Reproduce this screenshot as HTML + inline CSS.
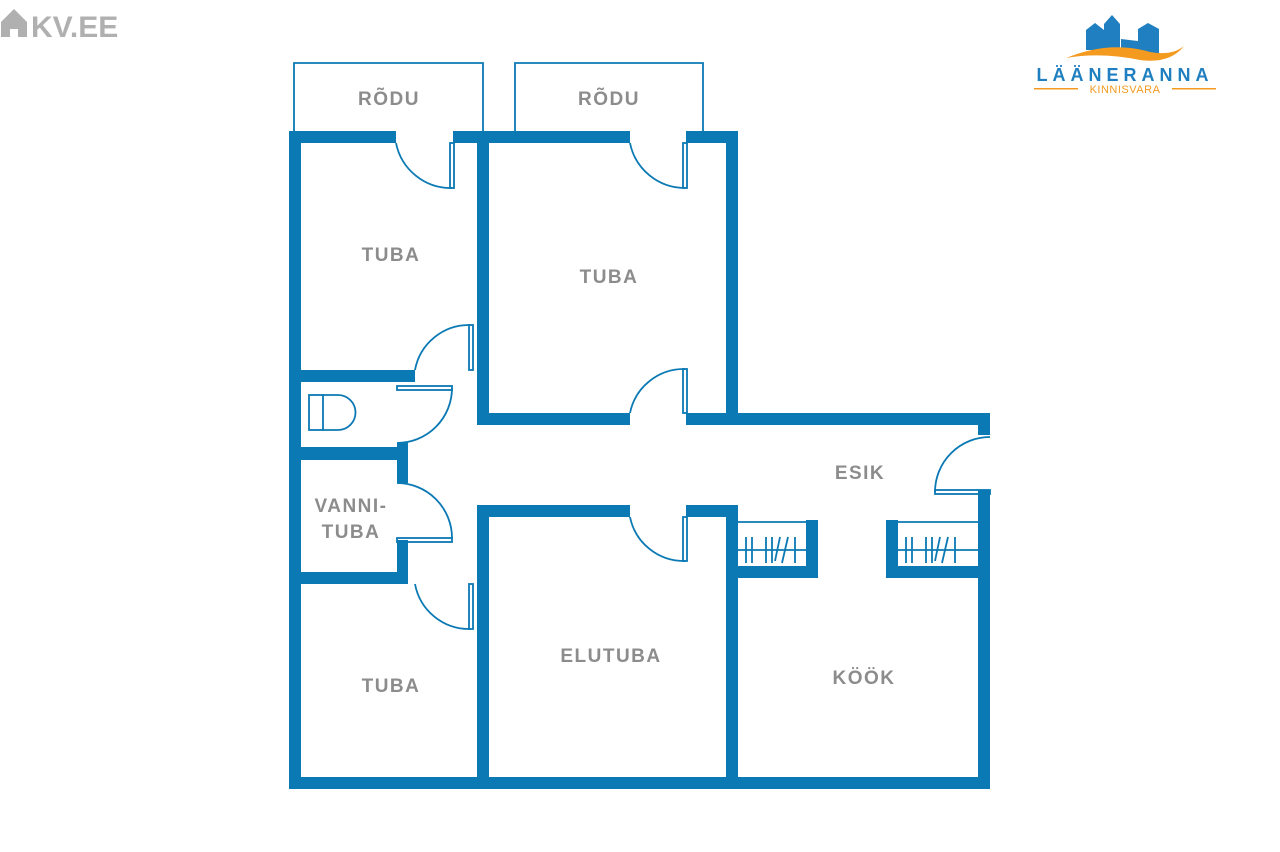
<!DOCTYPE html>
<html><head><meta charset="utf-8"><style>
html,body{margin:0;padding:0;background:#fff;width:1280px;height:852px;overflow:hidden}
svg{display:block}
.w{fill:#0a79b4}
.l{fill:none;stroke:#0a79b4;stroke-width:1.8}
.t{font-family:"Liberation Sans",sans-serif;font-weight:bold;fill:#8c8c8c;font-size:19px;letter-spacing:1.5px;text-anchor:middle}
</style></head><body>
<svg width="1280" height="852" viewBox="0 0 1280 852" xmlns="http://www.w3.org/2000/svg">
<!-- KV.EE logo -->
<path d="M1 22 L14 9 L27 22 L27 37 L18 37 L18 29 L10 29 L10 37 L1 37 Z" fill="#b0b0b0"/>
<text x="31" y="37" font-family="Liberation Sans,sans-serif" font-weight="bold" font-size="30" fill="#b0b0b0">KV.EE</text>
<!-- Laaneranna logo -->
<g fill="#1f7fc0">
<path d="M1086 50 L1086 30 L1095 23 L1104 30 L1104 50 Z"/>
<path d="M1104 50 L1104 24 L1112 15 L1120 24 L1120 50 Z"/>
<path d="M1121 50 L1121 39 L1146 42 L1146 54 Z"/>
<path d="M1138 44 L1138 29 L1148 23 L1159 29 L1159 54 L1140 54 Z"/>
</g>
<path d="M1066 58 Q1110 40 1150 52 Q1172 56 1184 46 Q1170 64 1140 60 Q1100 52 1066 58 Z" fill="#f39a1f"/>
<text x="1125" y="81" font-family="Liberation Sans,sans-serif" font-weight="bold" font-size="18" fill="#1f7fc0" text-anchor="middle" letter-spacing="5">LÄÄNERANNA</text>
<text x="1125" y="93" font-family="Liberation Sans,sans-serif" font-size="11" fill="#f39a1f" text-anchor="middle" letter-spacing="0.5">KINNISVARA</text>
<rect x="1034" y="88" width="44" height="1.5" fill="#f39a1f"/>
<rect x="1172" y="88" width="44" height="1.5" fill="#f39a1f"/>

<!-- balconies -->
<path class="l" d="M294 131 V63 H483 V131"/>
<path class="l" d="M515 131 V63 H703 V131"/>

<!-- walls -->
<rect class="w" x="289" y="131" width="12" height="658"/>
<rect class="w" x="289" y="777" width="701" height="12"/>
<rect class="w" x="289" y="131" width="107" height="12"/>
<rect class="w" x="453" y="131" width="177" height="12"/>
<rect class="w" x="686" y="131" width="52" height="12"/>
<rect class="w" x="477" y="131" width="12" height="294"/>
<rect class="w" x="726" y="131" width="12" height="294"/>
<rect class="w" x="477" y="413" width="153" height="12"/>
<rect class="w" x="686" y="413" width="304" height="12"/>
<rect class="w" x="978" y="413" width="12" height="22"/>
<rect class="w" x="978" y="490" width="12" height="299"/>
<rect class="w" x="477" y="505" width="153" height="12"/>
<rect class="w" x="686" y="505" width="52" height="12"/>
<rect class="w" x="477" y="505" width="12" height="284"/>
<rect class="w" x="726" y="505" width="12" height="284"/>
<rect class="w" x="301" y="370" width="114" height="12"/>
<rect class="w" x="301" y="447" width="107" height="13"/>
<rect class="w" x="397" y="443" width="11" height="40"/>
<rect class="w" x="397" y="540" width="11" height="44"/>
<rect class="w" x="301" y="572" width="107" height="12"/>
<!-- wardrobes -->
<rect class="w" x="806" y="520" width="12" height="58"/>
<rect class="w" x="738" y="566" width="80" height="12"/>
<rect class="w" x="886" y="520" width="12" height="58"/>
<rect class="w" x="886" y="566" width="92" height="12"/>
<path class="l" d="M738 522 H806 M738 550 H806 M898 522 H978 M898 550 H978"/>
<path class="l" d="M746 537 V563 M752 537 V563 M766 537 V563 M772 537 V563 M780 537 L775 561 M788 537 L782 563 M795 537 V563
M906 537 V563 M912 537 V563 M926 537 V563 M932 537 V563 M940 537 L935 561 M948 537 L942 563 M955 537 V563"/>

<!-- doors -->
<path class="l" d="M396 143 A56 56 0 0 0 452 188"/><rect class="l" x="450" y="143" width="4" height="45"/>
<path class="l" d="M630 143 A56 56 0 0 0 685 188"/><rect class="l" x="683" y="143" width="4" height="45"/>
<path class="l" d="M630 413 A55 55 0 0 1 685 369"/><rect class="l" x="683" y="369" width="4" height="44"/>
<path class="l" d="M630 517 A55 55 0 0 0 685 561"/><rect class="l" x="683" y="517" width="4" height="44"/>
<path class="l" d="M415 370 A55 55 0 0 1 470 325"/><rect class="l" x="469" y="325" width="4" height="45"/>
<path class="l" d="M415 584 A55 55 0 0 0 470 629"/><rect class="l" x="469" y="584" width="4" height="45"/>
<path class="l" d="M397 443 A55 55 0 0 0 452 388"/><rect class="l" x="397" y="386" width="55" height="4"/>
<path class="l" d="M397 483 A55 55 0 0 1 452 538"/><rect class="l" x="397" y="538" width="55" height="4"/>
<path class="l" d="M935 492 A55 55 0 0 1 990 437"/><rect class="l" x="935" y="490" width="55" height="4"/>
<!-- toilet -->
<rect class="l" x="309" y="395" width="14" height="35"/>
<path class="l" d="M323 395 H338 A17.5 17.5 0 0 1 338 430 H323"/>

<!-- labels -->
<text class="t" x="389" y="105">RÕDU</text>
<text class="t" x="609" y="105">RÕDU</text>
<text class="t" x="391" y="261">TUBA</text>
<text class="t" x="609" y="283">TUBA</text>
<text class="t" x="391" y="692">TUBA</text>
<text class="t" x="860" y="479">ESIK</text>
<text class="t" x="351" y="512">VANNI-</text>
<text class="t" x="351" y="538">TUBA</text>
<text class="t" x="611" y="662">ELUTUBA</text>
<text class="t" x="864" y="684">KÖÖK</text>
</svg>
</body></html>
